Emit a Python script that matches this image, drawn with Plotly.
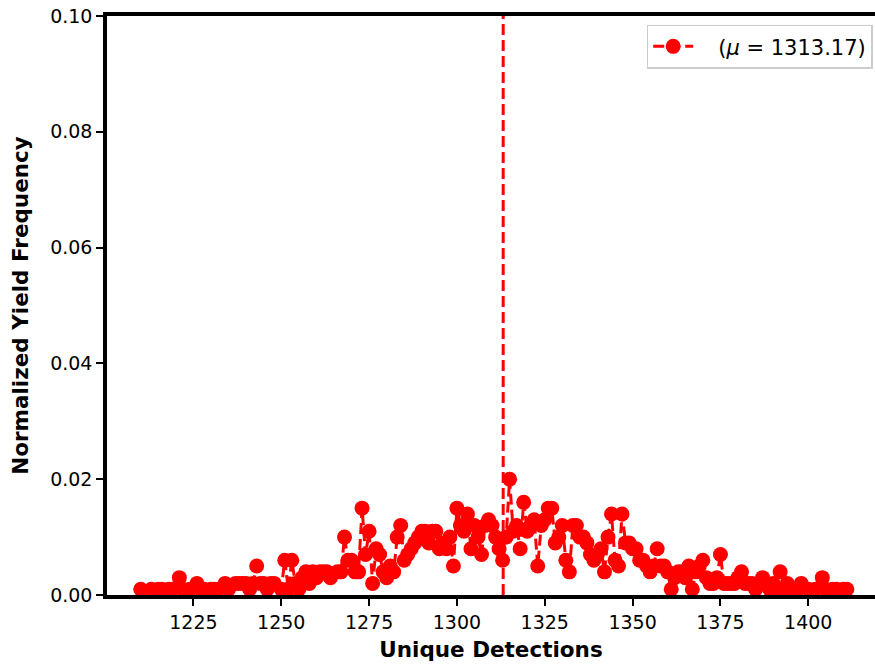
import plotly.graph_objects as go

# Unique detection counts and their normalized yield frequency (per mille)
detections = [
    1210, 1213, 1215, 1216, 1218, 1219, 1221, 1222, 1224, 1226, 1227, 1228,
    1230, 1231, 1232, 1234, 1235, 1237, 1238, 1239, 1240, 1241, 1242, 1243,
    1244, 1245, 1246, 1247, 1248, 1250, 1251, 1252, 1253, 1254, 1255, 1256,
    1257, 1258, 1259, 1260, 1261, 1262, 1263, 1264, 1266, 1267, 1268, 1269,
    1270, 1271, 1272, 1273, 1274, 1275, 1276, 1277, 1278, 1279, 1280, 1281,
    1282, 1283, 1284, 1285, 1286, 1287, 1288, 1289, 1290, 1291, 1292, 1293,
    1294, 1295, 1296, 1297, 1298, 1299, 1300, 1301, 1302, 1303, 1304, 1305,
    1306, 1307, 1308, 1309, 1310, 1311, 1312, 1313, 1314, 1315, 1316, 1317,
    1318, 1319, 1320, 1321, 1322, 1323, 1324, 1325, 1326, 1327, 1328, 1329,
    1330, 1331, 1332, 1333, 1334, 1335, 1336, 1337, 1338, 1339, 1340, 1341,
    1342, 1343, 1344, 1345, 1346, 1347, 1348, 1349, 1350, 1351, 1352, 1353,
    1354, 1355, 1356, 1357, 1358, 1359, 1360, 1361, 1362, 1363, 1364, 1365,
    1366, 1367, 1368, 1369, 1370, 1371, 1372, 1373, 1374, 1375, 1376, 1377,
    1378, 1379, 1380, 1381, 1382, 1383, 1384, 1385, 1386, 1387, 1388, 1389,
    1390, 1391, 1392, 1393, 1394, 1395, 1397, 1398, 1400, 1402, 1404, 1405,
    1407, 1408, 1410, 1411,
]
freq_permille = [
    1, 1, 1, 1, 1, 1, 3, 1, 1, 2, 1, 1,
    1, 1, 1, 2, 1, 2, 2, 2, 2, 1, 2, 5,
    2, 2, 1, 2, 2, 1, 6, 1, 6, 2, 1, 3,
    4, 2, 4, 3, 4, 4, 4, 3, 4, 4, 10, 6,
    6, 4, 4, 15, 7, 11, 2, 8, 7, 4, 3, 5,
    4, 10, 12, 6, 7, 8, 9, 10, 11, 11, 9, 11,
    11, 8, 9, 8, 10, 5, 15, 12, 11, 14, 8, 12,
    10, 7, 12, 13, 12, 10, 8, 6, 10, 20, 11, 12,
    8, 16, 11, 12, 13, 5, 12, 13, 15, 15, 9, 10,
    12, 6, 4, 12, 12, 10, 10, 9, 7, 6, 7, 8,
    4, 10, 14, 6, 5, 14, 9, 9, 8, 8, 6, 6,
    5, 4, 5, 8, 5, 5, 4, 1, 3, 4, 4, 3,
    5, 1, 4, 5, 6, 3, 2, 2, 3, 7, 2, 2,
    2, 2, 3, 4, 2, 2, 2, 1, 2, 3, 2, 1,
    2, 1, 4, 1, 2, 1, 1, 2, 1, 1, 3, 1,
    1, 1, 1, 1,
]
frequency = [v / 1000 for v in freq_permille]

mean_detections = 1313.17
x_ticks = [1225, 1250, 1275, 1300, 1325, 1350, 1375, 1400]
y_ticks = [0.00, 0.02, 0.04, 0.06, 0.08, 0.10]

RED = "#ff0000"
FONT = "DejaVu Sans"

fig = go.Figure()

fig.add_trace(go.Scatter(
    x=detections,
    y=frequency,
    mode="lines+markers",
    line=dict(color=RED, width=3, dash="11px,5px"),
    marker=dict(color=RED, size=15, symbol="circle"),
    name=f"   (<i>μ</i> = {mean_detections:.2f})",
    showlegend=True,
))

# Dashed vertical marker at the mean
fig.add_shape(
    type="line",
    x0=mean_detections, x1=mean_detections,
    y0=0, y1=1, xref="x", yref="paper",
    line=dict(color=RED, width=3, dash="11px,5px"),
    layer="above",
)

fig.update_layout(
    width=875,
    height=665,
    margin=dict(l=107, r=0, t=16, b=70),
    paper_bgcolor="white",
    plot_bgcolor="white",
    font=dict(family=FONT, size=19, color="black"),
    showlegend=True,
    legend=dict(
        x=0.997, y=0.985, xanchor="right", yanchor="top",
        bgcolor="white",
        bordercolor="#cccccc",
        borderwidth=1.5,
        font=dict(family=FONT, size=21, color="black"),
        itemwidth=40,
    ),
    xaxis=dict(
        range=[1200.4, 1419.0],
        tickvals=x_ticks,
        ticktext=[str(t) for t in x_ticks],
        ticks="outside",
        ticklen=7,
        tickwidth=1.5,
        tickcolor="black",
        showline=True,
        linecolor="black",
        linewidth=3.5,
        mirror=True,
        showgrid=False,
        zeroline=False,
        tickfont=dict(family=FONT, size=19),
        title=dict(
            text="<b>Unique Detections</b>",
            font=dict(family=FONT, size=21.5),
            standoff=11,
        ),
    ),
    yaxis=dict(
        range=[0, 0.1],
        tickvals=y_ticks,
        ticktext=[f"{t:.2f}" for t in y_ticks],
        ticks="outside",
        ticklen=7,
        tickwidth=1.5,
        tickcolor="black",
        showline=True,
        linecolor="black",
        linewidth=3.5,
        showgrid=False,
        zeroline=False,
        tickfont=dict(family=FONT, size=19),
        title=dict(
            text="<b>Normalized Yield Frequency</b>",
            font=dict(family=FONT, size=21.5),
            standoff=17,
        ),
    ),
)

fig.write_html("out.html")
